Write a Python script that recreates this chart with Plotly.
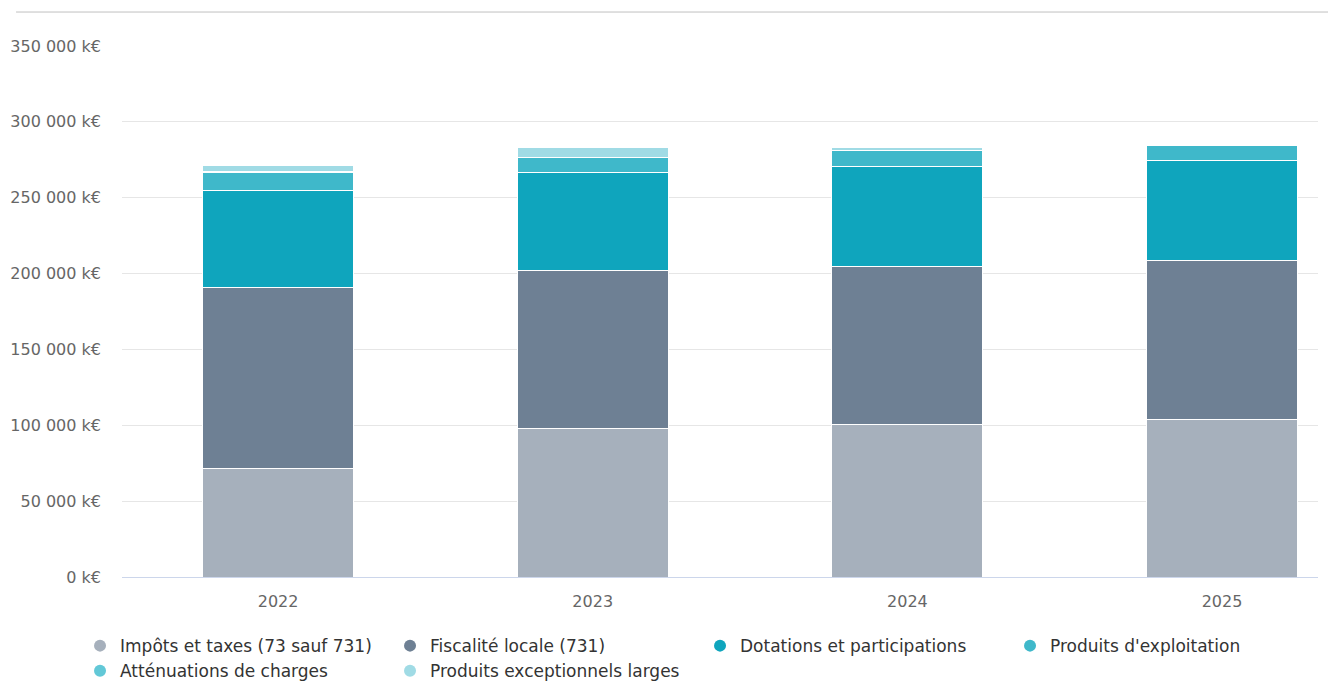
import plotly.graph_objects as go

years = ["2022", "2023", "2024", "2025"]

impots_taxes = [71200, 98200, 100800, 104100]
fiscalite_locale = [119300, 103500, 104100, 104800]
dotations = [64500, 64600, 65900, 65900]
produits_exploitation = [11900, 9900, 10600, 9800]
attenuations = [700, 500, 0, 0]
produits_exceptionnels = [3600, 6300, 1900, 0]

series = [
    ("Impôts et taxes (73 sauf 731)", impots_taxes, "#a6b0bc"),
    ("Fiscalité locale (731)", fiscalite_locale, "#6e8094"),
    ("Dotations et participations", dotations, "#0fa5bd"),
    ("Produits d'exploitation", produits_exploitation, "#3fb8ca"),
    ("Atténuations de charges", attenuations, "#62c8d7"),
    ("Produits exceptionnels larges", produits_exceptionnels, "#a0dbe5"),
]

y_ticks = [0, 50000, 100000, 150000, 200000, 250000, 300000, 350000]
y_tick_text = [f"{v:,}".replace(",", " ") + " k€" for v in y_ticks]

FONT = "DejaVu Sans"
fig = go.Figure()

for name, values, color in series:
    fig.add_trace(go.Bar(
        x=years, y=values, name=name, legendgroup=name, showlegend=False,
        marker=dict(color=color, line=dict(color="white", width=1)),
        width=0.48,
    ))
    # circular legend marker for the series
    fig.add_trace(go.Scatter(
        x=[None], y=[None], mode="markers", name=name, legendgroup=name,
        marker=dict(symbol="circle", size=15, color=color),
    ))

fig.update_layout(
    width=1328, height=682,
    margin=dict(l=122, r=10, t=46, b=105, autoexpand=False),
    paper_bgcolor="white", plot_bgcolor="white",
    barmode="stack",
    font=dict(family=FONT, size=16, color="#666666"),
    xaxis=dict(
        type="category", range=[-0.496, 3.305],
        showgrid=False, showline=True, linecolor="#ccd6eb", linewidth=1,
        ticks="", ticklabelstandoff=10,
        tickfont=dict(family=FONT, size=16, color="#666666"),
    ),
    yaxis=dict(
        range=[0, 350000], tickvals=y_ticks, ticktext=y_tick_text,
        showgrid=True, gridcolor="#e6e6e6", gridwidth=1,
        zeroline=False, showline=False, ticks="", ticklabelstandoff=20,
        tickfont=dict(family=FONT, size=16, color="#666666"),
    ),
    legend=dict(
        orientation="h", xref="paper", yref="paper",
        x=-0.0351, y=-0.0962, xanchor="left", yanchor="top",
        entrywidth=265, entrywidthmode="pixels",
        font=dict(family=FONT, size=17, color="#333333"),
        itemsizing="constant", tracegroupgap=0,
    ),
    shapes=[dict(
        type="line", xref="paper", yref="paper",
        x0=-0.0886, x1=1.01, y0=1.064, y1=1.064,
        line=dict(color="#c0c0c0", width=1),
    )],
    showlegend=True,
)

fig.write_html("out.html")
